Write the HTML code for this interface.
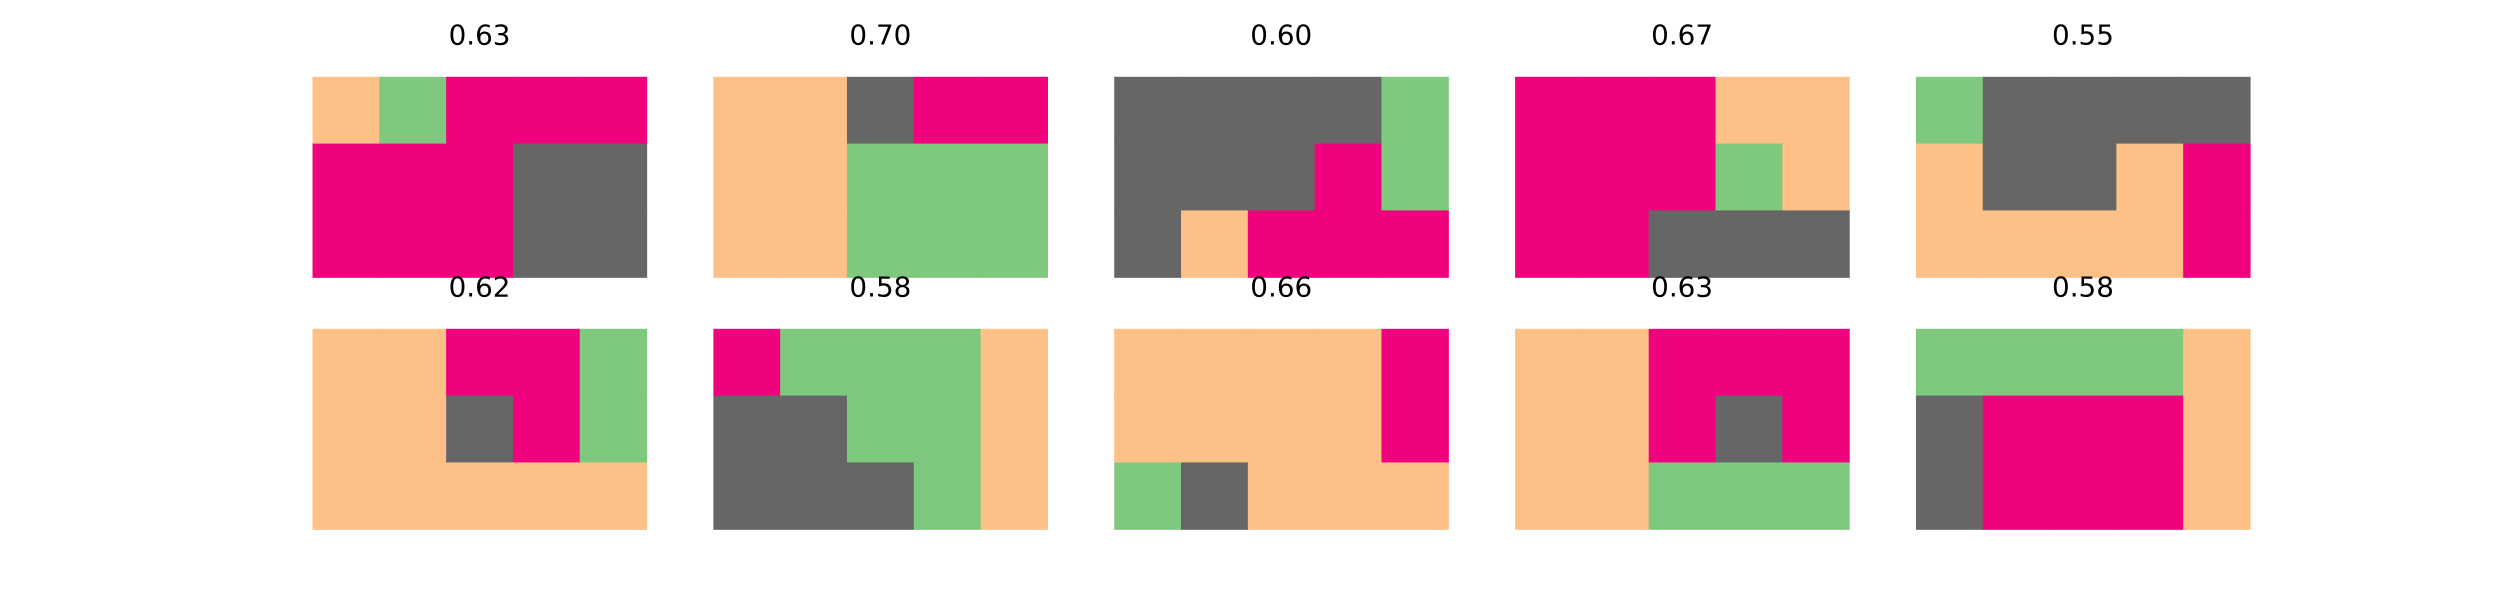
<!DOCTYPE html>
<html><head><meta charset="utf-8"><style>
html,body{margin:0;padding:0;background:#fff;width:2500px;height:600px;overflow:hidden}
svg{display:block}
text{font-family:"DejaVu Sans","Liberation Sans",sans-serif}
</style></head><body>
<svg id="chart" width="2500" height="600" viewBox="0 0 2500 600" xmlns="http://www.w3.org/2000/svg"></svg>
<script>
const scores = ["0.63","0.70","0.60","0.67","0.55","0.62","0.58","0.66","0.63","0.58"];
const grids = [
 ["PGMMM","MMMKK","MMMKK"],
 ["PPKMM","PPGGG","PPGGG"],
 ["KKKKG","KKKMG","KPMMM"],
 ["MMMPP","MMMGP","MMKKK"],
 ["GKKKK","PKKPM","PPPPM"],
 ["PPMMG","PPKMG","PPPPP"],
 ["MGGGP","KKGGP","KKKGP"],
 ["PPPPM","PPPPM","GKPPP"],
 ["PPMMM","PPMKM","PPGGG"],
 ["GGGGP","KMMMP","KMMMP"]
];
const colorMap = {P:"#fdc086",G:"#7fc97f",M:"#f0027f",K:"#666666"};
const svg = document.getElementById('chart');
const NS = "http://www.w3.org/2000/svg";
const cell = 66.81, left0 = 312.5, colStep = 400.86;
const rowTop = [76.8, 328.8];
grids.forEach((g, i) => {
  const r = Math.floor(i / 5), c = i % 5;
  const x0 = left0 + c * colStep, y0 = rowTop[r];
  const grp = document.createElementNS(NS, 'g');
  
  
  g.forEach((row, ri) => {
    [...row].forEach((ch, ci) => {
      const rect = document.createElementNS(NS, 'rect');
      rect.setAttribute('x', (x0 + ci * cell).toFixed(2));
      rect.setAttribute('y', (y0 + ri * cell).toFixed(2));
      rect.setAttribute('width', (cell + 0.6).toFixed(2));
      rect.setAttribute('height', (cell + 0.6).toFixed(2));
      rect.setAttribute('fill', colorMap[ch]);
      
      
      grp.appendChild(rect);
    });
  });
  const t = document.createElementNS(NS, 'text');
  t.setAttribute('x', (x0 + cell * 2.5).toFixed(2));
  t.setAttribute('y', (y0 - 32.4).toFixed(2));
  t.setAttribute('text-anchor', 'middle');
  t.setAttribute('font-size', '27.8');
  t.setAttribute('fill', '#000');
  t.textContent = scores[i];
  
  
  grp.appendChild(t);
  svg.appendChild(grp);
});
</script>
</body></html>
